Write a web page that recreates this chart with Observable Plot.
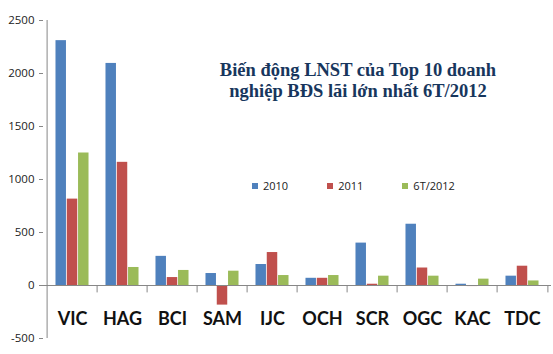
<!DOCTYPE html>
<html>
<head>
<meta charset="utf-8">
<script src="https://cdn.jsdelivr.net/npm/d3@7"></script>
<script src="https://cdn.jsdelivr.net/npm/@observablehq/plot@0.6"></script>
<style>
  html, body { margin: 0; padding: 0; background: #fff; }
  #wrap { position: relative; width: 553px; height: 354px; }
  #title { position: absolute; left: 180px; width: 356px; top: 60px; text-align: center;
    font-family: "Liberation Serif", serif; font-weight: bold; font-size: 18.5px; line-height: 21px; color: #17365D; }
  #legend { position: absolute; top: 178px; left: 252px; font-family: "Open Sans", sans-serif; font-size: 11px; color: #222; white-space: nowrap; }
  #legend span.item { display: inline-block; margin-right: 39px; }
  #legend span.sw { display: inline-block; width: 6px; height: 6px; margin-right: 5px; vertical-align: 1px; }
</style>
</head>
<body>
<div id="wrap">
  <div id="chart"></div>
  <div id="title">Biến động LNST của Top 10 doanh<br>nghiệp BĐS lãi lớn nhất 6T/2012</div>
  <div id="legend"></div>
</div>
<script>
const categories = ["VIC", "HAG", "BCI", "SAM", "IJC", "OCH", "SCR", "OGC", "KAC", "TDC"];
const seriesNames = ["2010", "2011", "6T/2012"];
const values2010 = [2310, 2095, 275, 113, 198, 68, 400, 578, 12, 88];
const values2011 = [815, 1162, 75, -185, 311, 68, 12, 165, -10, 182];
const values6T2012 = [1250, 170, 142, 135, 94, 94, 88, 88, 60, 43];
const colors = ["#4F81BD", "#C0504D", "#9BBB59"];
const yTicks = [-500, 0, 500, 1000, 1500, 2000, 2500];

const seriesValues = [values2010, values2011, values6T2012];
const tables = seriesValues.map(vals => categories.map((c, i) => ({cat: c, v: vals[i]})));

const W = 553, H = 354;
const mL = 43, mR = 2, mT = 20, mB = 16;
const band = (W - mL - mR) / categories.length;
const barW = band * 0.222;
const inset = (band - barW) / 2;

const barMarks = tables.map((t, k) => Plot.barY(t, {
  x: "cat", y: "v", fill: colors[k], dx: (k - 1) * barW, insetLeft: inset, insetRight: inset
}));

const plot = Plot.plot({
  width: W, height: H,
  marginLeft: mL, marginRight: mR, marginTop: mT, marginBottom: mB,
  style: {fontFamily: "Open Sans, sans-serif", background: "transparent"},
  x: {domain: categories, type: "band", padding: 0, axis: null, label: null},
  y: {domain: [-500, 2500], axis: null, label: null},
  marks: [
    ...barMarks,
    Plot.ruleY([0], {stroke: "#878787"}),
    Plot.ruleX([categories[0]], {x: d => d, y1: -500, y2: 2500, dx: -band / 2, stroke: "#878787"}),
    Plot.ruleX(categories.slice(1), {x: d => d, y1: 0, y2: -70, dx: -band / 2, stroke: "#878787"}),
    Plot.ruleX([categories[categories.length - 1]], {x: d => d, y1: 0, y2: -70, dx: band / 2, stroke: "#878787"}),
    Plot.axisY({ticks: yTicks, tickSize: 4, tickPadding: 5, stroke: "#878787", fill: "#222", fontSize: 11.5, tickFormat: d => String(d), label: null}),
    Plot.axisX({anchor: "bottom", tickSize: 0, tickPadding: 0, dy: -26, fontSize: 18, fontWeight: "bold", fontFamily: "Lato, sans-serif", fill: "#111", label: null})
  ]
});
document.getElementById("chart").appendChild(plot);

const legend = document.getElementById("legend");
seriesNames.forEach((n, k) => {
  const item = document.createElement("span");
  item.className = "item";
  const sw = document.createElement("span");
  sw.className = "sw";
  sw.style.background = colors[k];
  item.appendChild(sw);
  item.appendChild(document.createTextNode(n));
  legend.appendChild(item);
});
</script>
</body>
</html>
